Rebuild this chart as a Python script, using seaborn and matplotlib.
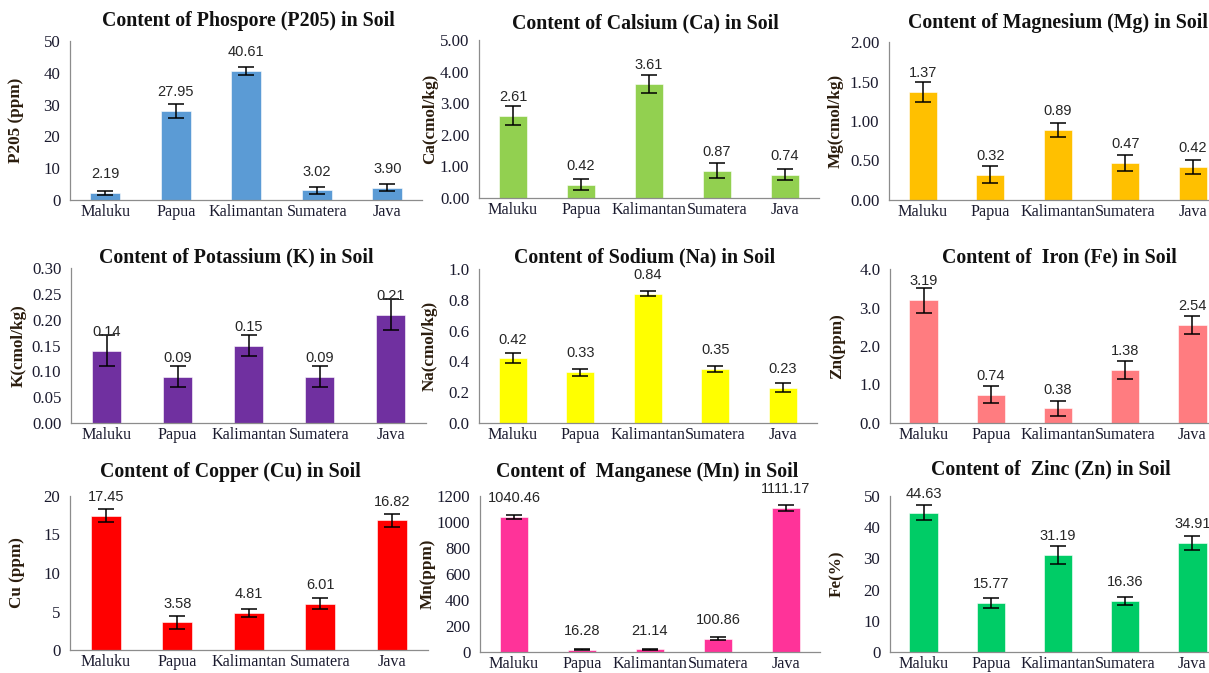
import matplotlib
matplotlib.use("Agg")
import matplotlib.pyplot as plt
import seaborn as sns
from matplotlib.ticker import FormatStrFormatter, FixedLocator

sns.set_style("white")
plt.rcParams["font.family"] = ["Liberation Serif", "DejaVu Serif"]

regions = ["Maluku", "Papua", "Kalimantan", "Sumatera", "Java"]

# Mean contents per region and their standard errors
p205 = [2.19, 27.95, 40.61, 3.02, 3.90]
p205_err = [0.73, 2.1, 1.15, 1.0, 1.0]
ca = [2.61, 0.42, 3.61, 0.87, 0.74]
ca_err = [0.30, 0.18, 0.29, 0.23, 0.17]
mg = [1.37, 0.32, 0.89, 0.47, 0.42]
mg_err = [0.125, 0.11, 0.09, 0.10, 0.09]
k = [0.14, 0.09, 0.15, 0.09, 0.21]
k_err = [0.03, 0.02, 0.02, 0.02, 0.03]
na = [0.42, 0.33, 0.84, 0.35, 0.23]
na_err = [0.033, 0.022, 0.018, 0.022, 0.031]
fe = [3.19, 0.74, 0.38, 1.38, 2.54]
fe_err = [0.32, 0.22, 0.20, 0.24, 0.23]
cu = [17.45, 3.58, 4.81, 6.01, 16.82]
cu_err = [0.87, 0.87, 0.48, 0.74, 0.89]
mn = [1040.46, 16.28, 21.14, 100.86, 1111.17]
mn_err = [14, 3, 5, 11, 23]
zn = [44.63, 15.77, 31.19, 16.36, 34.91]
zn_err = [2.35, 1.6, 2.9, 1.3, 2.2]

W, H = 1209, 673
fig = plt.figure(figsize=(W / 100, H / 100), dpi=100)

# (title, y label, values, errors, colour, ymax, ystep, fmt,
#  axes left px, axes bottom px, axes top px, category spacing px, title centre x px, title y px, ylabel x px)
panels = [
    ("Content of Phospore (P205) in Soil", "P205 (ppm)", p205, p205_err, "#5B9BD5", 50, 10, "%d",
     70, 200, 41, 70.5, 248, 21, 16),
    ("Content of Calsium (Ca) in Soil", "Ca(cmol/kg)", ca, ca_err, "#92D050", 5, 1, "%.2f",
     479, 198, 40, 68, 645, 23, 430),
    ("Content of Magnesium (Mg) in Soil", "Mg(cmol/kg)", mg, mg_err, "#FFC000", 2, 0.5, "%.2f",
     889, 200, 42, 67.5, 1058, 23, 836),
    ("Content of Potassium (K) in Soil", "K(cmol/kg)", k, k_err, "#7030A0", 0.30, 0.05, "%.2f",
     71, 423, 268, 71, 236, 257, 19),
    ("Content of Sodium (Na) in Soil", "Na(cmol/kg)", na, na_err, "#FFFF00", 1.0, 0.2, "%.1f",
     479, 423, 269, 67.5, 645, 257, 430),
    ("Content of  Iron (Fe) in Soil", "Zn(ppm)", fe, fe_err, "#FF7C80", 4.0, 1.0, "%.1f",
     890, 423, 269, 67.2, 1059, 257, 837),
    ("Content of Copper (Cu) in Soil", "Cu (ppm)", cu, cu_err, "#FF0000", 20, 5, "%d",
     70, 650, 496, 71.5, 230, 472, 17),
    ("Content of  Manganese (Mn) in Soil", "Mn(ppm)", mn, mn_err, "#FF3399", 1200, 200, "%d",
     480, 652, 496, 68, 647, 472, 428),
    ("Content of  Zinc (Zn) in Soil", "Fe(%)", zn, zn_err, "#00CC66", 50, 10, "%d",
     890, 652, 496, 67.2, 1051, 469, 837),
]

axis_col = "#8C8C8C"
text_col = "#1A1A2E"

for (title, ylab, vals, errs, col, ymax, ystep, fmt,
     left, bottom, top, step, tx, ty, lx) in panels:
    width_px = step * 5
    ax = fig.add_axes([left / W, 1 - bottom / H, width_px / W, (bottom - top) / H])
    ax.set_facecolor("none")
    sns.barplot(x=regions, y=vals, color=col, saturation=1, width=0.42,
                errorbar=None, ax=ax, edgecolor="white", linewidth=0.4)
    ax.errorbar(range(len(vals)), vals, yerr=errs, fmt="none", ecolor="black",
                elinewidth=1.1, capsize=5.5, capthick=1.1)
    for i, v in enumerate(vals):
        ax.annotate(f"{v:.2f}", (i, v), xytext=(0, 13.5), textcoords="offset points",
                    ha="center", va="center", fontsize=10.5,
                    family=["Liberation Sans", "DejaVu Sans"], color="#262626",
                    annotation_clip=False)
    ax.set_xlim(-0.5, 4.5)
    ax.set_ylim(0, ymax)
    n = int(round(ymax / ystep))
    ax.set_yticks([ystep * j for j in range(n + 1)])
    ax.yaxis.set_major_formatter(FormatStrFormatter(fmt))
    ax.xaxis.set_minor_locator(FixedLocator([j - 0.5 for j in range(6)]))
    ax.tick_params(axis="x", which="major", length=0, pad=3, labelsize=11.6, colors=text_col)
    ax.tick_params(axis="x", which="minor", length=5, width=0.8, color=axis_col, direction="out")
    ax.tick_params(axis="y", length=4, width=0.8, color=axis_col, direction="out",
                   labelsize=12.2, pad=3, labelcolor=text_col)
    for s in ("top", "right"):
        ax.spines[s].set_visible(False)
    for s in ("left", "bottom"):
        ax.spines[s].set_color(axis_col)
        ax.spines[s].set_linewidth(0.9)
    ax.set_xlabel("")
    ax.set_ylabel("")
    fig.text(tx / W, 1 - ty / H, title, ha="center", va="center",
             fontsize=14.3, fontweight="bold", color="#111111")
    fig.text(lx / W, 1 - ((bottom + top) / 2) / H, ylab, rotation=90, ha="center",
             va="center", fontsize=12.3, fontweight="bold", color="#2B1D0E")

fig.savefig("out.png", dpi=100)
